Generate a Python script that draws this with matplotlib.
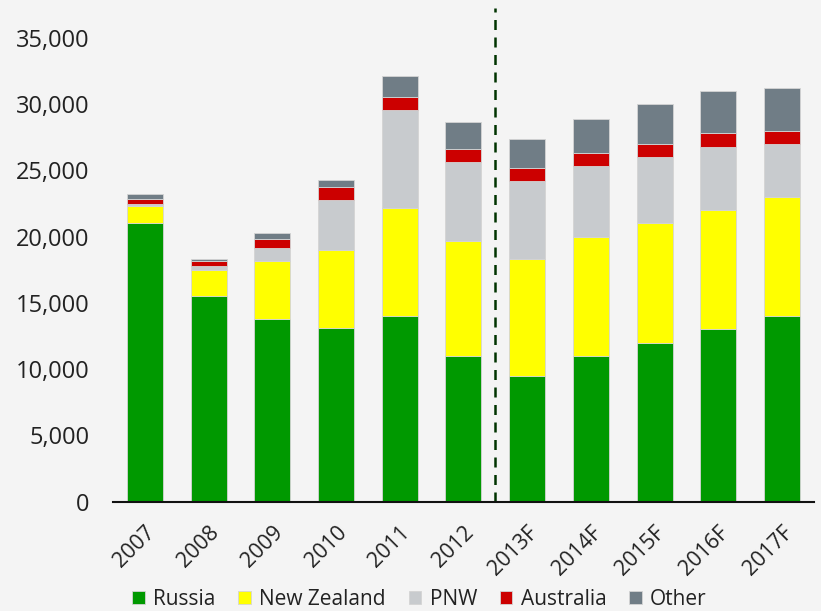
import matplotlib
matplotlib.use('Agg')
import matplotlib.pyplot as plt
from matplotlib.ticker import FuncFormatter
import numpy as np

years = ['2007', '2008', '2009', '2010', '2011', '2012',
         '2013F', '2014F', '2015F', '2016F', '2017F']
russia = [21050, 15500, 13800, 13100, 14000, 11000, 9500, 11000, 12000, 13000, 14000]
new_zealand = [1250, 2000, 4370, 5900, 8200, 8650, 8800, 9000, 9000, 9000, 9000]
pnw = [200, 280, 1010, 3800, 7330, 6000, 5900, 5300, 5000, 4800, 4000]
australia = [330, 350, 680, 980, 980, 1000, 1000, 1000, 1000, 1000, 1000]
other = [360, 150, 450, 510, 1640, 2000, 2200, 2550, 3000, 3200, 3200]

series = [('Russia', russia, '#009900'),
          ('New Zealand', new_zealand, '#ffff00'),
          ('PNW', pnw, '#c8cbce'),
          ('Australia', australia, '#cc0000'),
          ('Other', other, '#707d86')]

plt.rcParams['font.family'] = ['Open Sans', 'DejaVu Sans']
txt = '#222222'

fig = plt.figure(figsize=(8.21, 6.11), dpi=100)
fig.patch.set_facecolor('#f4f4f4')
ax = fig.add_axes([0.1376, 0.1792, 0.8539, 0.8078])
ax.set_facecolor('none')

x = np.arange(len(years))
bottom = np.zeros(len(years))
for name, vals, col in series:
    ax.bar(x, vals, 0.565, bottom=bottom, color=col, label=name,
           edgecolor='#d4d4d4', linewidth=0.6)
    bottom += np.array(vals)

# forecast divider
ax.axvline(5.5, color='#003300', linestyle=(0, (4, 3)), linewidth=1.8)

ax.set_xlim(-0.5, len(years) - 0.5)
ax.set_ylim(0, 37270)
ax.set_yticks(range(0, 35001, 5000))
ax.yaxis.set_major_formatter(FuncFormatter(lambda v, p: f'{int(v):,}'))
ax.set_xticks(x)
ax.set_xticklabels(years, rotation=45, ha='right', rotation_mode='anchor')
ax.tick_params(axis='y', length=0, pad=17, labelsize=17, labelcolor=txt)
ax.tick_params(axis='x', length=0, pad=15, labelsize=15.5, labelcolor=txt)

for s in ['top', 'right', 'left']:
    ax.spines[s].set_visible(False)
ax.spines['bottom'].set_color('#111111')
ax.spines['bottom'].set_linewidth(1.5)

fig.legend(loc='center', bbox_to_anchor=(0.511, 0.019), ncol=5, frameon=False,
           fontsize=15, handlelength=0.6, handleheight=0.6,
           handletextpad=0.4, columnspacing=1.1, labelcolor=txt)

fig.savefig('out.png', dpi=100, facecolor=fig.get_facecolor())
